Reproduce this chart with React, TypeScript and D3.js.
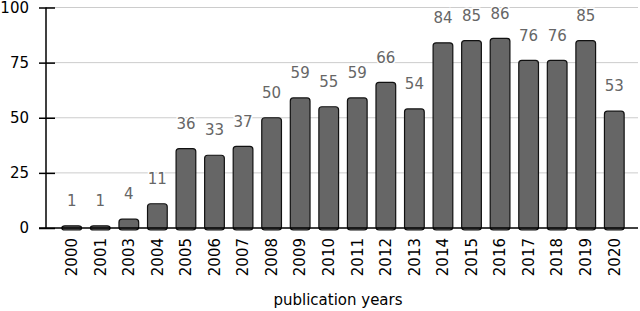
import React, { useRef, useEffect } from 'react';
import * as d3 from 'd3';

const years = ['2000', '2001', '2003', '2004', '2005', '2006', '2007', '2008', '2009', '2010',
  '2011', '2012', '2013', '2014', '2015', '2016', '2017', '2018', '2019', '2020'];
const counts = [1, 1, 4, 11, 36, 33, 37, 50, 59, 55, 59, 66, 54, 84, 85, 86, 76, 76, 85, 53];
const yTicks = [0, 25, 50, 75, 100];
const xTitle = 'publication years';

const App = () => {
  const ref = useRef<SVGSVGElement>(null);

  useEffect(() => {
    const width = 640;
    const height = 311;
    const left = 46;
    const right = 638;
    const font = 'DejaVu Sans, Verdana, sans-serif';

    const svg = d3.select(ref.current).attr('width', width).attr('height', height);
    svg.selectAll('*').remove();

    const data = years.map((year, i) => ({ year, value: counts[i] }));

    const x = d3.scaleBand().domain(years).range([53, 633]).padding(0.31);
    const y = d3.scaleLinear().domain([0, 100]).range([228, 7.5]);

    // grid
    svg
      .append('g')
      .selectAll('line')
      .data(yTicks.filter((t) => t > 0))
      .enter()
      .append('line')
      .attr('x1', left)
      .attr('x2', right)
      .attr('y1', (d) => y(d))
      .attr('y2', (d) => y(d))
      .attr('stroke', '#cccccc')
      .attr('stroke-width', 1);

    // y axis
    const yAxis = svg
      .append('g')
      .attr('transform', `translate(${left},0)`)
      .call(d3.axisLeft(y).tickValues(yTicks).tickSize(7).tickPadding(10));
    yAxis.select('.domain').remove();
    yAxis.selectAll('.tick line').attr('x2', 9).attr('x1', -7).attr('stroke', '#000').attr('stroke-width', 1.5);
    yAxis.selectAll('text').attr('font-family', font).attr('font-size', 15).attr('fill', '#000');

    svg
      .append('line')
      .attr('x1', left)
      .attr('x2', left)
      .attr('y1', y(100))
      .attr('y2', y(0))
      .attr('stroke', '#000')
      .attr('stroke-width', 1.5);

    // bars
    svg
      .selectAll('.bar')
      .data(data)
      .enter()
      .append('rect')
      .attr('class', 'bar')
      .attr('x', (d) => x(d.year))
      .attr('y', (d) => y(d.value))
      .attr('width', x.bandwidth())
      .attr('height', (d) => y(0) - y(d.value) + 2)
      .attr('rx', 3)
      .attr('fill', '#666666')
      .attr('stroke', '#111111')
      .attr('stroke-width', 1.2);

    // baseline
    svg
      .append('line')
      .attr('x1', left - 7)
      .attr('x2', right)
      .attr('y1', y(0))
      .attr('y2', y(0))
      .attr('stroke', '#000')
      .attr('stroke-width', 1.5);

    // value labels
    svg
      .selectAll('.label')
      .data(data)
      .enter()
      .append('text')
      .attr('class', 'label')
      .attr('x', (d) => x(d.year) + x.bandwidth() / 2)
      .attr('y', (d) => y(d.value) - 25)
      .attr('dy', '0.35em')
      .attr('text-anchor', 'middle')
      .attr('font-family', font)
      .attr('font-size', 15)
      .attr('fill', '#666666')
      .attr('stroke', '#ffffff')
      .attr('stroke-width', 3)
      .attr('paint-order', 'stroke')
      .text((d) => d.value);

    // x labels, rotated
    svg
      .selectAll('.xlab')
      .data(years)
      .enter()
      .append('text')
      .attr('class', 'xlab')
      .attr('transform', (d) => `translate(${x(d) + x.bandwidth() / 2},238) rotate(-90)`)
      .attr('dy', '0.35em')
      .attr('text-anchor', 'end')
      .attr('font-family', font)
      .attr('font-size', 15)
      .attr('fill', '#000')
      .text((d) => d);

    svg
      .append('text')
      .attr('x', 338)
      .attr('y', 305)
      .attr('text-anchor', 'middle')
      .attr('font-family', font)
      .attr('font-size', 15)
      .attr('fill', '#000')
      .text(xTitle);
  }, []);

  return <svg ref={ref} style={{ position: 'absolute', left: 0, top: 0 }} />;
};

export default App;
